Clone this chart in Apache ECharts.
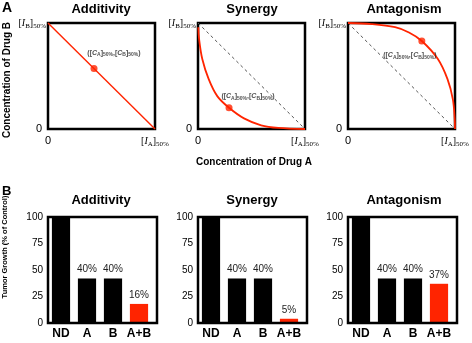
<!DOCTYPE html>
<html>
<head>
<meta charset="utf-8">
<script src="https://cdn.jsdelivr.net/npm/echarts@6/dist/echarts.min.js"></script>
<style>
html, body { margin: 0; padding: 0; background: #fff; }
#main { width: 472px; height: 343px; }
</style>
</head>
<body>
<div id="main"></div>
<script>
// panel names
var panelNames = ['Additivity', 'Synergy', 'Antagonism'];

// isobolograms (fraction of IC50)
var diagonal = [[0, 1], [1, 0]];
var additivityCurve = [[0, 1], [1, 0]];
var synergyCurve = [[0.003, 0.96], [0.01, 0.85], [0.04, 0.66], [0.1, 0.47], [0.18, 0.31], [0.29, 0.2], [0.43, 0.1], [0.59, 0.035], [0.75, 0.01], [1, 0]];
var antagonismCurve = [[0, 1], [0.22, 0.99], [0.44, 0.96], [0.57, 0.91], [0.69, 0.83], [0.84, 0.66], [0.93, 0.47], [0.98, 0.28], [0.997, 0.1], [1, 0]];
var additivityPoint = [0.43, 0.57];
var synergyPoint = [0.29, 0.2];
var antagonismPoint = [0.69, 0.83];

// tumor growth bars
var barCats = ['ND', 'A', 'B', 'A+B'];
var additivityBars = [100, 42, 42, 18];
var synergyBars = [100, 42, 42, 4];
var antagonismBars = [100, 42, 42, 37];
var additivityLabels = ['', '40%', '40%', '16%'];
var synergyLabels = ['', '40%', '40%', '5%'];
var antagonismLabels = ['', '40%', '40%', '37%'];

var RED = '#ff2400';
var SANS = 'Arial, "Liberation Sans", sans-serif';
var SERIF = '"Liberation Serif", "Times New Roman", serif';
var colLeft = [48, 198, 348];

var myChart = echarts.init(document.getElementById('main'));

var conRich = {
    br: { fontFamily: SERIF, fontSize: 10, color: '#000', lineHeight: 14, verticalAlign: 'middle' },
    it: { fontFamily: SERIF, fontSize: 10, fontStyle: 'italic', color: '#000', lineHeight: 14, verticalAlign: 'middle' },
    sub: { fontFamily: SERIF, fontSize: 7, color: '#000', lineHeight: 8, verticalAlign: 'bottom' },
    z: { fontFamily: SANS, fontSize: 11, color: '#000', lineHeight: 14, verticalAlign: 'middle' },
    zr: { fontFamily: SANS, fontSize: 11, color: '#000', lineHeight: 14, verticalAlign: 'middle', padding: [0, 4, 0, 0] }
};
var noteRich = {
    p: { fontFamily: SANS, fontSize: 7, fontWeight: 'bold', color: '#222', lineHeight: 10, verticalAlign: 'middle' },
    pi: { fontFamily: SANS, fontSize: 7, fontWeight: 'bold', fontStyle: 'italic', color: '#222', lineHeight: 10, verticalAlign: 'middle' },
    ps: { fontFamily: SANS, fontSize: 5, fontWeight: 'bold', color: '#222', lineHeight: 6, verticalAlign: 'bottom' }
};
var noteText = '{p|([}{pi|C}{ps|A}{p|]}{ps|50%}{p|,[}{pi|C}{ps|B}{p|]}{ps|50%}{p|)}';

var curves = [additivityCurve, synergyCurve, antagonismCurve];
var points = [additivityPoint, synergyPoint, antagonismPoint];
var noteOffset = [[20, -16], [19, -12], [-12, 14]];
var bars = [additivityBars, synergyBars, antagonismBars];
var barLabels = [additivityLabels, synergyLabels, antagonismLabels];

var grids = [], xAxes = [], yAxes = [], series = [], graphics = [];

for (var i = 0; i < 3; i++) {
    grids.push({
        left: colLeft[i], top: 23, width: 107, height: 106,
        show: true, borderColor: '#000', borderWidth: 2.5
    });
    xAxes.push({
        gridIndex: i, type: 'value', min: 0, max: 1, interval: 1,
        axisLine: { show: false }, axisTick: { show: false }, splitLine: { show: false },
        axisLabel: {
            margin: 5,
            formatter: function (v) { return v === 0 ? '{z|0}' : '{br|[}{it|I}{sub|A}{br|]}{sub|50%}'; },
            rich: conRich
        }
    });
    yAxes.push({
        gridIndex: i, type: 'value', min: 0, max: 1, interval: 1,
        axisLine: { show: false }, axisTick: { show: false }, splitLine: { show: false },
        axisLabel: {
            margin: 2,
            formatter: function (v) { return v === 0 ? '{zr|0}' : '{br|[}{it|I}{sub|B}{br|]}{sub|50%}'; },
            rich: conRich
        }
    });
    if (i > 0) {
        series.push({
            type: 'line', xAxisIndex: i, yAxisIndex: i, data: diagonal,
            symbol: 'none', silent: true, clip: false,
            lineStyle: { color: '#555', width: 1, type: [3, 3] }
        });
    }
    series.push({
        type: 'line', xAxisIndex: i, yAxisIndex: i, data: curves[i],
        symbol: 'none', smooth: i > 0 ? 0.35 : false, clip: false, silent: true,
        lineStyle: { color: RED, width: i > 0 ? 1.8 : 1.4 }, z: 3
    });
    series.push({
        type: 'scatter', xAxisIndex: i, yAxisIndex: i, data: [points[i]],
        symbolSize: 7, itemStyle: { color: RED }, z: 4,
        label: {
            show: true, position: 'inside', offset: noteOffset[i],
            formatter: noteText, rich: noteRich
        }
    });
}

for (var j = 0; j < 3; j++) {
    var gi = 3 + j;
    grids.push({ left: colLeft[j], top: 217, width: 104, height: 106 });
    xAxes.push({
        gridIndex: gi, type: 'category', data: barCats,
        axisLine: { show: false }, axisTick: { show: false },
        axisLabel: { interval: 0, margin: 5, color: '#000', fontFamily: SANS, fontWeight: 'bold', fontSize: 12 }
    });
    yAxes.push({
        gridIndex: gi, type: 'value', min: 0, max: 100, interval: 25,
        axisLine: { show: false }, axisTick: { show: false }, splitLine: { show: false },
        axisLabel: { margin: 5, color: '#000', fontFamily: SANS, fontSize: 10 }
    });
    (function (labels) {
        series.push({
            type: 'bar', xAxisIndex: gi, yAxisIndex: gi, barWidth: '70%',
            data: bars[j].map(function (v, k) {
                return { value: v, itemStyle: { color: k === 3 ? RED : '#000' } };
            }),
            label: {
                show: true, position: 'top', distance: 4,
                color: '#222', fontFamily: SANS, fontSize: 10,
                formatter: function (p) { return labels[p.dataIndex]; }
            }
        });
    })(barLabels[j]);
    graphics.push({
        type: 'rect', z: 100, silent: true,
        shape: { x: colLeft[j], y: 217, width: 109, height: 106 },
        style: { fill: 'none', stroke: '#000', lineWidth: 2.5 }
    });
}

var titleCenters = [101, 252, 404];
for (var t = 0; t < 3; t++) {
    graphics.push({ type: 'text', x: titleCenters[t], y: 9,
        style: { text: panelNames[t], font: 'bold 13px ' + SANS, fill: '#000', align: 'center', verticalAlign: 'middle' } });
    graphics.push({ type: 'text', x: titleCenters[t], y: 200,
        style: { text: panelNames[t], font: 'bold 13px ' + SANS, fill: '#000', align: 'center', verticalAlign: 'middle' } });
}
graphics.push({ type: 'text', x: 2, y: 1,
    style: { text: 'A', font: 'bold 14px ' + SANS, fill: '#000' } });
graphics.push({ type: 'text', x: 2, y: 185,
    style: { text: 'B', font: 'bold 13px ' + SANS, fill: '#000' } });
graphics.push({ type: 'text', x: 254, y: 162,
    style: { text: 'Concentration of Drug A', font: 'bold 10px ' + SANS, fill: '#000', align: 'center', verticalAlign: 'middle' } });
graphics.push({ type: 'text', x: 7, y: 80, rotation: Math.PI / 2,
    style: { text: 'Concentration of Drug B', font: 'bold 10px ' + SANS, fill: '#000', align: 'center', verticalAlign: 'middle' } });
graphics.push({ type: 'text', x: 5, y: 247, rotation: Math.PI / 2,
    style: { text: 'Tumor Growth (% of Control)', font: 'bold 7.5px ' + SANS, fill: '#000', align: 'center', verticalAlign: 'middle' } });

option = {
    backgroundColor: '#fff',
    animation: false,
    grid: grids,
    xAxis: xAxes,
    yAxis: yAxes,
    series: series,
    graphic: graphics
};
myChart.setOption(option);
</script>
</body>
</html>
